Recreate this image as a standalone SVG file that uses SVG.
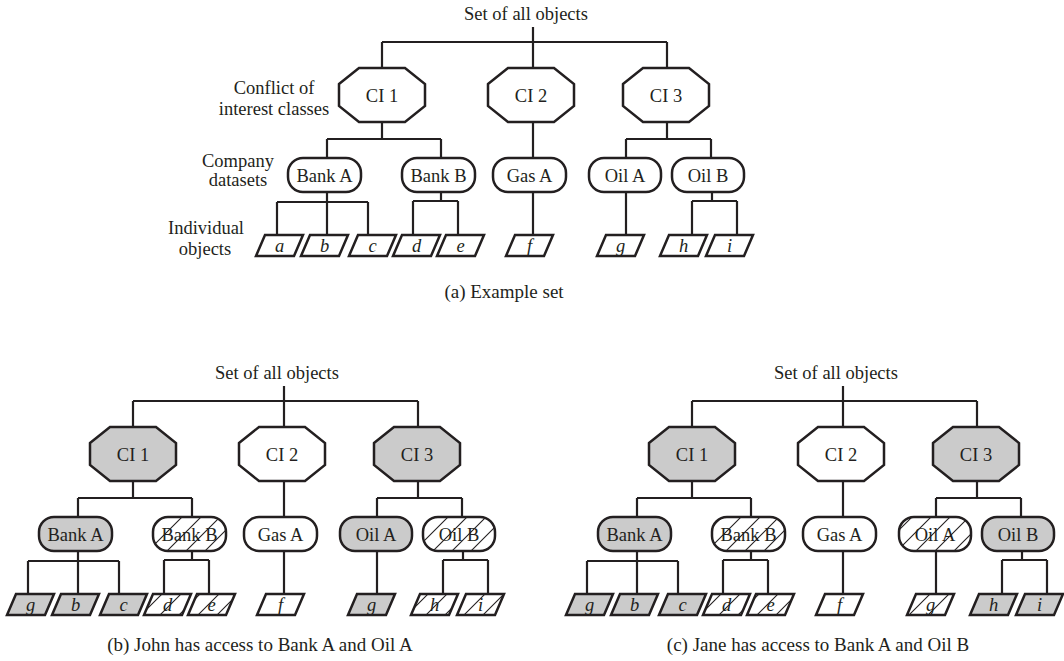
<svg xmlns="http://www.w3.org/2000/svg" width="1064" height="661" viewBox="0 0 1064 661">
<defs>
<pattern id="hatch" patternUnits="userSpaceOnUse" width="19" height="19">
<rect width="19" height="19" fill="#ffffff"/>
<path d="M-2,21 L21,-2 M-4,4 L4,-4 M15,23 L23,15" stroke="#231f20" stroke-width="1.1" fill="none"/>
</pattern>
<style>
.n{stroke:#231f20;stroke-width:2.5;fill:#ffffff;stroke-linejoin:miter}
.g{fill:#cbcbcb}
.h{fill:url(#hatch)}
.c{stroke:#231f20;stroke-width:2.2;fill:none}
text{font-family:"Liberation Serif","Times New Roman",serif;font-size:18.5px;fill:#231f20}
.m{text-anchor:middle}
.i{font-style:italic;text-anchor:middle}
.cap{font-size:19px}
</style>
</defs>
<rect width="1064" height="661" fill="#ffffff"/>

<!-- Diagram (a) -->
<g id="diagram-a">
<g id="a-labels">
<text class="m" x="526" y="20">Set of all objects</text>
<text class="m" x="274" y="94">Conflict of</text>
<text class="m" x="274" y="115">interest classes</text>
<text class="m" x="238" y="167">Company</text>
<text class="m" x="238" y="186">datasets</text>
<text class="m" x="206" y="234">Individual</text>
<text class="m" x="205" y="255">objects</text>
<text class="m cap" x="504" y="298">(a) Example set</text>
</g>
<g id="a-connectors">
<path class="c" d="M533,27V68 M382,42H667 M382,42V68 M667,42V68 M382,122V139 M327,139H441 M327,139V158 M441,139V158 M533,122V158 M667,122V139 M626,139H711 M626,139V158 M711,139V158 M327,192V202 M277,202H368 M277,202V235 M327,202V235 M368,202V235 M441,192V201 M413,201H458 M413,201V235 M458,201V235 M533,192V235 M626,192V235 M712,192V201 M692,201H737 M692,201V235 M737,201V235"/>
</g>
<g id="a-ci1"><polygon class="n" points="339,84 359,68 405,68 425,84 425,106 405,122 359,122 339,106"/><text class="m" x="382" y="102">CI 1</text></g>
<g id="a-ci2"><polygon class="n" points="488,84 508,68 554,68 574,84 574,106 554,122 508,122 488,106"/><text class="m" x="531" y="102">CI 2</text></g>
<g id="a-ci3"><polygon class="n" points="623,84 643,68 689,68 709,84 709,106 689,122 643,122 623,106"/><text class="m" x="666" y="102">CI 3</text></g>
<g id="a-banka"><rect class="n" x="288" y="158" width="73" height="34" rx="15"/><text class="m" x="324.5" y="182">Bank A</text></g>
<g id="a-bankb"><rect class="n" x="402" y="158" width="73" height="34" rx="15"/><text class="m" x="438.5" y="182">Bank B</text></g>
<g id="a-gasa"><rect class="n" x="493" y="158" width="73" height="34" rx="15"/><text class="m" x="529.5" y="182">Gas A</text></g>
<g id="a-oila"><rect class="n" x="589" y="158" width="72" height="34" rx="15"/><text class="m" x="625" y="182">Oil A</text></g>
<g id="a-oilb"><rect class="n" x="672" y="158" width="72" height="34" rx="15"/><text class="m" x="708" y="182">Oil B</text></g>
<g id="a-obj-a"><polygon class="n" points="265,235 303,235 294,256 256,256"/><text class="i" x="279.5" y="252">a</text></g>
<g id="a-obj-b"><polygon class="n" points="310,235 348,235 339,256 301,256"/><text class="i" x="324.5" y="252">b</text></g>
<g id="a-obj-c"><polygon class="n" points="358,235 396,235 387,256 349,256"/><text class="i" x="372.5" y="252">c</text></g>
<g id="a-obj-d"><polygon class="n" points="402,235 440,235 431,256 393,256"/><text class="i" x="416.5" y="252">d</text></g>
<g id="a-obj-e"><polygon class="n" points="446,235 484,235 475,256 437,256"/><text class="i" x="460.5" y="252">e</text></g>
<g id="a-obj-f"><polygon class="n" points="515,235 553,235 544,256 506,256"/><text class="i" x="529.5" y="252">f</text></g>
<g id="a-obj-g"><polygon class="n" points="606,235 644,235 635,256 597,256"/><text class="i" x="620.5" y="252">g</text></g>
<g id="a-obj-h"><polygon class="n" points="669,235 707,235 698,256 660,256"/><text class="i" x="683.5" y="252">h</text></g>
<g id="a-obj-i"><polygon class="n" points="715,235 753,235 744,256 706,256"/><text class="i" x="729.5" y="252">i</text></g>
</g>

<!-- Diagram (b) -->
<g id="diagram-b" transform="translate(-249,359)">
<g id="b-labels"><text class="m" x="526" y="20">Set of all objects</text></g>
<g id="b-connectors">
<path class="c" d="M533,27V68 M382,42H667 M382,42V68 M667,42V68 M382,122V139 M327,139H441 M327,139V158 M441,139V158 M533,122V158 M667,122V139 M626,139H711 M626,139V158 M711,139V158 M327,192V202 M277,202H368 M277,202V235 M327,202V235 M368,202V235 M441,192V201 M413,201H458 M413,201V235 M458,201V235 M533,192V235 M626,192V235 M712,192V201 M692,201H737 M692,201V235 M737,201V235"/>
</g>
<g id="b-ci1"><polygon class="n g" points="339,84 359,68 405,68 425,84 425,106 405,122 359,122 339,106"/><text class="m" x="382" y="102">CI 1</text></g>
<g id="b-ci2"><polygon class="n" points="488,84 508,68 554,68 574,84 574,106 554,122 508,122 488,106"/><text class="m" x="531" y="102">CI 2</text></g>
<g id="b-ci3"><polygon class="n g" points="623,84 643,68 689,68 709,84 709,106 689,122 643,122 623,106"/><text class="m" x="666" y="102">CI 3</text></g>
<g id="b-banka"><rect class="n g" x="288" y="158" width="73" height="34" rx="15"/><text class="m" x="324.5" y="182">Bank A</text></g>
<g id="b-bankb"><rect class="n h" x="402" y="158" width="73" height="34" rx="15"/><text class="m" x="438.5" y="182">Bank B</text></g>
<g id="b-gasa"><rect class="n" x="493" y="158" width="73" height="34" rx="15"/><text class="m" x="529.5" y="182">Gas A</text></g>
<g id="b-oila"><rect class="n g" x="589" y="158" width="72" height="34" rx="15"/><text class="m" x="625" y="182">Oil A</text></g>
<g id="b-oilb"><rect class="n h" x="672" y="158" width="72" height="34" rx="15"/><text class="m" x="708" y="182">Oil B</text></g>
<g id="b-obj-g1"><polygon class="n g" points="265,235 303,235 294,256 256,256"/><text class="i" x="279.5" y="252">g</text></g>
<g id="b-obj-b"><polygon class="n g" points="310,235 348,235 339,256 301,256"/><text class="i" x="324.5" y="252">b</text></g>
<g id="b-obj-c"><polygon class="n g" points="358,235 396,235 387,256 349,256"/><text class="i" x="372.5" y="252">c</text></g>
<g id="b-obj-d"><polygon class="n h" points="402,235 440,235 431,256 393,256"/><text class="i" x="416.5" y="252">d</text></g>
<g id="b-obj-e"><polygon class="n h" points="446,235 484,235 475,256 437,256"/><text class="i" x="460.5" y="252">e</text></g>
<g id="b-obj-f"><polygon class="n" points="515,235 553,235 544,256 506,256"/><text class="i" x="529.5" y="252">f</text></g>
<g id="b-obj-g"><polygon class="n g" points="606,235 644,235 635,256 597,256"/><text class="i" x="620.5" y="252">g</text></g>
<g id="b-obj-h"><polygon class="n h" points="669,235 707,235 698,256 660,256"/><text class="i" x="683.5" y="252">h</text></g>
<g id="b-obj-i"><polygon class="n h" points="715,235 753,235 744,256 706,256"/><text class="i" x="729.5" y="252">i</text></g>
</g>
<text id="caption-b" class="m cap" x="260" y="651">(b) John has access to Bank A and Oil A</text>

<!-- Diagram (c) -->
<g id="diagram-c" transform="translate(310,359)">
<g id="c-labels"><text class="m" x="526" y="20">Set of all objects</text></g>
<g id="c-connectors">
<path class="c" d="M533,27V68 M382,42H667 M382,42V68 M667,42V68 M382,122V139 M327,139H441 M327,139V158 M441,139V158 M533,122V158 M667,122V139 M626,139H711 M626,139V158 M711,139V158 M327,192V202 M277,202H368 M277,202V235 M327,202V235 M368,202V235 M441,192V201 M413,201H458 M413,201V235 M458,201V235 M533,192V235 M626,192V235 M712,192V201 M692,201H737 M692,201V235 M737,201V235"/>
</g>
<g id="c-ci1"><polygon class="n g" points="339,84 359,68 405,68 425,84 425,106 405,122 359,122 339,106"/><text class="m" x="382" y="102">CI 1</text></g>
<g id="c-ci2"><polygon class="n" points="488,84 508,68 554,68 574,84 574,106 554,122 508,122 488,106"/><text class="m" x="531" y="102">CI 2</text></g>
<g id="c-ci3"><polygon class="n g" points="623,84 643,68 689,68 709,84 709,106 689,122 643,122 623,106"/><text class="m" x="666" y="102">CI 3</text></g>
<g id="c-banka"><rect class="n g" x="288" y="158" width="73" height="34" rx="15"/><text class="m" x="324.5" y="182">Bank A</text></g>
<g id="c-bankb"><rect class="n h" x="402" y="158" width="73" height="34" rx="15"/><text class="m" x="438.5" y="182">Bank B</text></g>
<g id="c-gasa"><rect class="n" x="493" y="158" width="73" height="34" rx="15"/><text class="m" x="529.5" y="182">Gas A</text></g>
<g id="c-oila"><rect class="n h" x="589" y="158" width="72" height="34" rx="15"/><text class="m" x="625" y="182">Oil A</text></g>
<g id="c-oilb"><rect class="n g" x="672" y="158" width="72" height="34" rx="15"/><text class="m" x="708" y="182">Oil B</text></g>
<g id="c-obj-g1"><polygon class="n g" points="265,235 303,235 294,256 256,256"/><text class="i" x="279.5" y="252">g</text></g>
<g id="c-obj-b"><polygon class="n g" points="310,235 348,235 339,256 301,256"/><text class="i" x="324.5" y="252">b</text></g>
<g id="c-obj-c"><polygon class="n g" points="358,235 396,235 387,256 349,256"/><text class="i" x="372.5" y="252">c</text></g>
<g id="c-obj-d"><polygon class="n h" points="402,235 440,235 431,256 393,256"/><text class="i" x="416.5" y="252">d</text></g>
<g id="c-obj-e"><polygon class="n h" points="446,235 484,235 475,256 437,256"/><text class="i" x="460.5" y="252">e</text></g>
<g id="c-obj-f"><polygon class="n" points="515,235 553,235 544,256 506,256"/><text class="i" x="529.5" y="252">f</text></g>
<g id="c-obj-g"><polygon class="n h" points="606,235 644,235 635,256 597,256"/><text class="i" x="620.5" y="252">g</text></g>
<g id="c-obj-h"><polygon class="n g" points="669,235 707,235 698,256 660,256"/><text class="i" x="683.5" y="252">h</text></g>
<g id="c-obj-i"><polygon class="n g" points="715,235 753,235 744,256 706,256"/><text class="i" x="729.5" y="252">i</text></g>
</g>
<text id="caption-c" class="m cap" x="818" y="651">(c) Jane has access to Bank A and Oil B</text>
</svg>
